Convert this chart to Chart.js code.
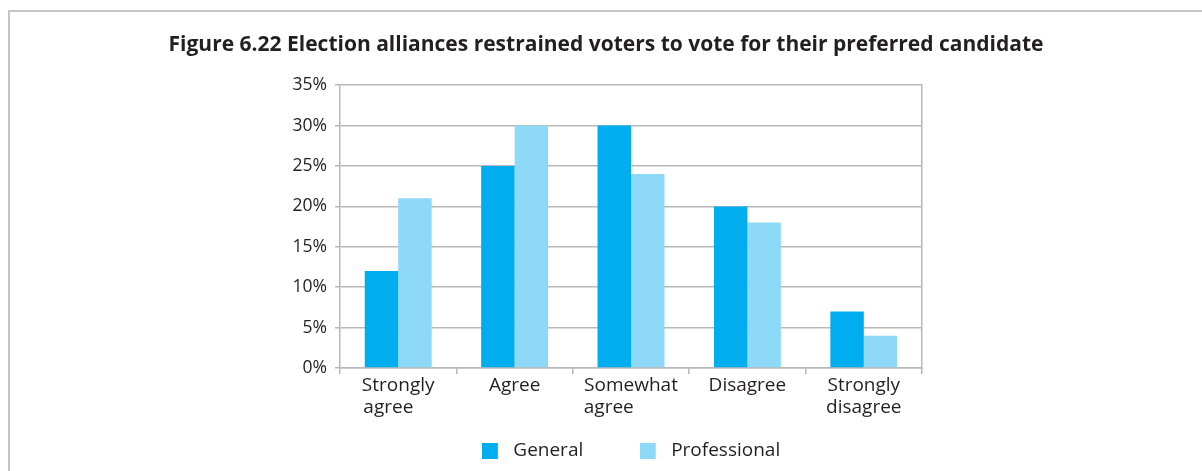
<!DOCTYPE html>
<html>
<head>
<meta charset="utf-8">
<script src="https://cdn.jsdelivr.net/npm/chart.js@4.4.1/dist/chart.umd.min.js"></script>
<style>
  html, body { margin: 0; padding: 0; background: #fff; overflow: hidden; }
  #frame { position: absolute; left: 8px; top: 10px; width: 1400px; height: 600px;
           border-left: 2px solid #c6c6c6; border-top: 2px solid #c6c6c6; }
  #wrap { position: absolute; left: 0; top: 0; width: 1202px; height: 471px; }
</style>
</head>
<body>
<div id="frame"></div>
<div id="wrap"><canvas id="chart"></canvas></div>
<script>
const titleText = 'Figure 6.22 Election alliances restrained voters to vote for their preferred candidate';
const categories = [['Strongly', 'agree'], ['Agree'], ['Somewhat', 'agree'], ['Disagree'], ['Strongly', 'disagree']];
const seriesNames = ['General', 'Professional'];
const generalValues = [12, 25, 30, 20, 7];
const professionalValues = [21, 30, 24, 18, 4];
const yTickValues = [0, 5, 10, 15, 20, 25, 30, 35];

const textColor = '#231f20';
const gridColor = '#b8b8b8';
const fontFamily = "'Open Sans', sans-serif";
const labelSize = 19;
const yLabelSize = 17.5;

const measureCtx = document.createElement('canvas').getContext('2d');
measureCtx.font = labelSize + 'px ' + fontFamily;

// pad the shorter line with spaces so a two-line label reads left aligned
function padLines(lines) {
    const widest = Math.max(...lines.map(l => measureCtx.measureText(l).width));
    return lines.map(l => {
        let s = l;
        while (measureCtx.measureText(s + '\u00a0').width <= widest + 1) s += '\u00a0';
        return s;
    });
}

// extra room after a legend entry
function padAfter(text, extra) {
    const target = measureCtx.measureText(text).width + extra;
    let s = text;
    while (measureCtx.measureText(s).width < target) s += '\u00a0';
    return s;
}

// legend marker: a square with some empty room after it
function legendMarker(color) {
    const c = document.createElement('canvas');
    c.width = 22;
    c.height = 16;
    const g = c.getContext('2d');
    g.fillStyle = color;
    g.fillRect(0, 0, 16, 16);
    return c;
}

const colors = ['#00aeef', '#8ed8f8'];

new Chart(document.getElementById('chart'), {
    type: 'bar',
    data: {
        labels: categories.map(padLines),
        datasets: [{
            label: seriesNames[0],
            data: generalValues,
            backgroundColor: colors[0],
            pointStyle: legendMarker(colors[0]),
            categoryPercentage: 0.575,
            barPercentage: 1.0
        },
        {
            label: seriesNames[1],
            data: professionalValues,
            backgroundColor: colors[1],
            pointStyle: legendMarker(colors[1]),
            categoryPercentage: 0.575,
            barPercentage: 1.0
        }]
    },
    options: {
        responsive: true,
        maintainAspectRatio: false,
        animation: false,
        layout: { padding: { left: 10, right: 0, top: 0, bottom: 0.5 } },
        plugins: {
            title: {
                display: true,
                text: titleText,
                color: textColor,
                font: { family: fontFamily, size: 21, weight: 'bold' },
                padding: { top: 32, bottom: 28 }
            },
            legend: {
                position: 'bottom',
                fullSize: false,
                labels: {
                    usePointStyle: true,
                    pointStyleWidth: 22,
                    color: textColor,
                    font: { family: fontFamily, size: labelSize },
                    padding: 12,
                    generateLabels: chart => {
                        const items = Chart.defaults.plugins.legend.labels.generateLabels(chart);
                        items.forEach((it, i) => {
                            if (i < items.length - 1) it.text = padAfter(it.text, 44);
                        });
                        return items;
                    }
                }
            },
            tooltip: { enabled: false }
        },
        scales: {
            x: {
                afterFit: s => { s.height = 61.5; },
                grid: {
                    offset: true,
                    drawOnChartArea: false,
                    color: gridColor,
                    lineWidth: 1.5,
                    tickLength: 6
                },
                border: { display: true, color: gridColor, width: 1.5 },
                ticks: {
                    color: textColor,
                    font: { family: fontFamily, size: labelSize, lineHeight: 1.15 },
                    padding: 1,
                    autoSkip: false,
                    maxRotation: 0
                }
            },
            y: {
                min: 0,
                max: 35,
                afterBuildTicks: s => { s.ticks = yTickValues.map(v => ({ value: v })); },
                afterFit: s => { s.width = 330; },
                grid: { color: gridColor, lineWidth: 1.5, tickLength: 5 },
                border: { display: true, color: gridColor, width: 1.5 },
                ticks: {
                    color: textColor,
                    font: { family: fontFamily, size: yLabelSize },
                    padding: 8,
                    callback: v => v + '%'
                }
            },
            y2: {
                position: 'right',
                min: 0,
                max: 35,
                afterFit: s => { s.width = 280; },
                grid: { drawOnChartArea: false, drawTicks: false },
                border: { display: true, color: gridColor, width: 1.5 },
                ticks: { display: false }
            }
        }
    }
});
</script>
</body>
</html>
